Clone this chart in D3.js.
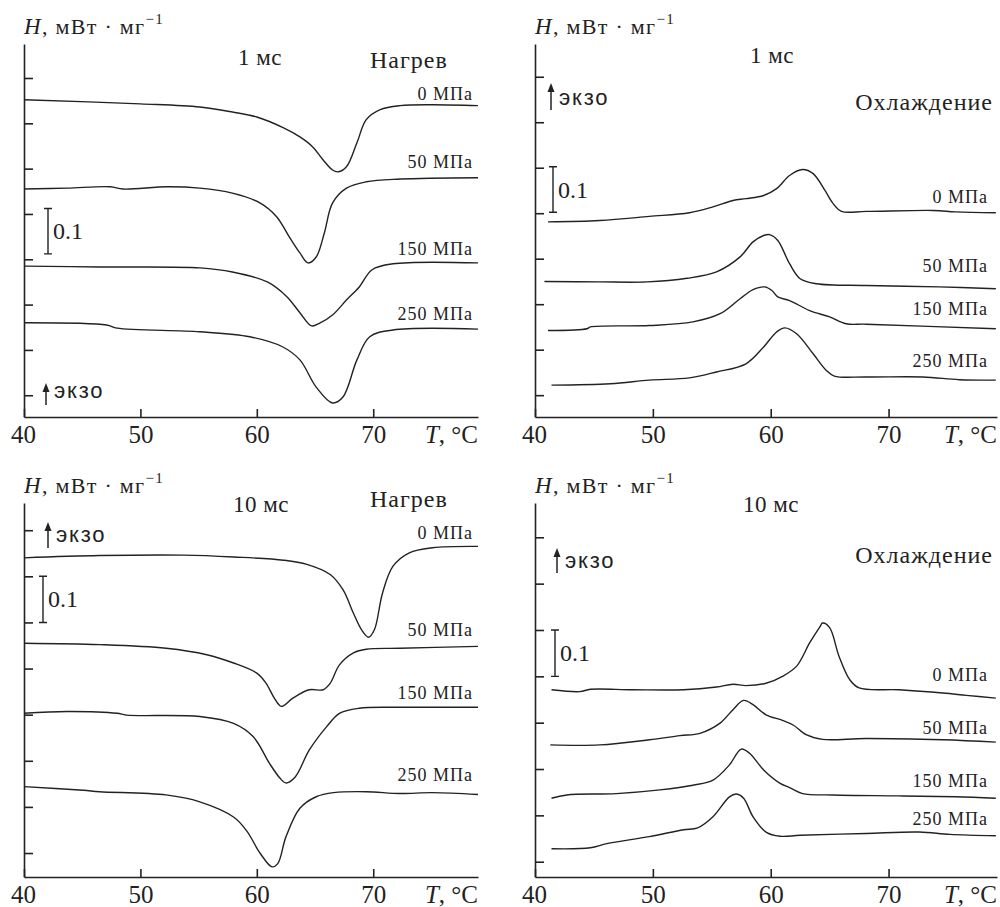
<!DOCTYPE html>
<html>
<head>
<meta charset="utf-8">
<script src="https://cdn.jsdelivr.net/npm/d3@7"></script>
<style>
  body { margin: 0; background: #fff; }
  svg text { fill: #222; }
</style>
</head>
<body>
<svg id="chart" width="1000" height="907"></svg>
<script>
/*
  DSC curves, 4 panels
*/

var xTicks = [40, 50, 60, 70],
    pressures = ["0 МПа", "50 МПа", "150 МПа", "250 МПа"],
    rates = ["1 мс", "1 мс", "10 мс", "10 мс"],
    modes = ["Нагрев", "Охлаждение", "Нагрев", "Охлаждение"];

// heating, 1 ms
var heat1_0 = [[40,0.700],[50,0.691],[55.1,0.684],[57.9,0.673],[60,0.662],[62.3,0.638],[63.7,0.618],[64.8,0.596],[65.7,0.567],[66.5,0.545],[67.0,0.541],[67.7,0.552],[68.6,0.605],[69.4,0.656],[70.6,0.678],[72.3,0.687],[75.1,0.689],[79,0.687]],
    heat1_50 = [[40,0.503],[43.7,0.505],[47.4,0.508],[48.5,0.503],[52.3,0.508],[55.1,0.505],[57.9,0.494],[60.3,0.472],[61.7,0.442],[62.8,0.397],[63.7,0.362],[64.4,0.340],[65.1,0.353],[65.8,0.406],[66.5,0.472],[67.7,0.505],[69.4,0.519],[72.3,0.525],[79,0.528]],
    heat1_150 = [[40,0.333],[46.5,0.331],[55.1,0.329],[57.9,0.320],[60.9,0.298],[62.6,0.265],[63.7,0.230],[64.7,0.201],[65.4,0.207],[66.5,0.225],[67.7,0.258],[68.8,0.287],[69.9,0.325],[71.7,0.338],[79,0.340]],
    heat1_250 = [[40,0.208],[47.1,0.203],[48.0,0.196],[55.1,0.188],[59.4,0.177],[62.2,0.155],[63.7,0.126],[65.1,0.066],[66.5,0.031],[67.4,0.044],[68.6,0.126],[69.7,0.177],[71.7,0.192],[79,0.194]];

// cooling, 1 ms
var cool1_0 = [[41.1,0.429],[45.5,0.432],[49.7,0.441],[53.1,0.449],[55.1,0.462],[56.8,0.476],[57.9,0.480],[59.4,0.487],[60.5,0.502],[61.6,0.531],[62.7,0.544],[63.6,0.535],[64.6,0.498],[65.3,0.469],[66.0,0.452],[68.1,0.452],[73.8,0.454],[75.7,0.451],[79.1,0.449]],
    cool1_50 = [[40.8,0.298],[45.5,0.297],[49.5,0.297],[52.9,0.305],[55.4,0.319],[57.4,0.352],[58.5,0.385],[59.4,0.399],[59.9,0.401],[60.6,0.388],[61.6,0.337],[62.5,0.304],[63.9,0.293],[68.1,0.289],[74.3,0.286],[79.1,0.282]],
    cool1_150 = [[41.1,0.190],[44.4,0.194],[44.7,0.198],[49.7,0.201],[53.4,0.209],[55.7,0.227],[57.4,0.260],[58.5,0.280],[59.5,0.286],[60.1,0.278],[60.6,0.264],[61.6,0.256],[63.3,0.234],[65.0,0.220],[66.4,0.205],[68.1,0.204],[79.1,0.194]],
    cool1_250 = [[41.4,0.070],[46.4,0.073],[49.7,0.081],[53.1,0.086],[55.4,0.099],[57.9,0.117],[59.4,0.154],[60.5,0.187],[61.2,0.196],[62.2,0.183],[63.6,0.139],[64.7,0.103],[65.4,0.090],[68.1,0.088],[72.9,0.088],[76.0,0.082],[79.1,0.081]];

// heating, 10 ms
var heat10_0 = [[40,0.692],[46.5,0.697],[53.7,0.698],[58.0,0.694],[62.3,0.687],[64.3,0.678],[66.3,0.656],[67.4,0.623],[68.3,0.572],[69.0,0.536],[69.6,0.520],[70.1,0.536],[70.8,0.616],[71.7,0.674],[73.1,0.703],[75.1,0.714],[79,0.717]],
    heat10_50 = [[40,0.507],[46.5,0.504],[52.2,0.496],[55.7,0.482],[58.0,0.464],[60.0,0.442],[60.8,0.420],[61.5,0.388],[62.1,0.370],[63.1,0.388],[64.5,0.406],[65.7,0.406],[66.3,0.420],[67.1,0.460],[68.3,0.486],[69.4,0.494],[72.3,0.496],[79,0.500]],
    heat10_150 = [[40,0.355],[43.7,0.359],[48.0,0.355],[48.8,0.351],[55.1,0.348],[58.0,0.333],[59.7,0.304],[61.1,0.246],[62.0,0.214],[62.5,0.204],[63.3,0.217],[64.5,0.275],[66.0,0.326],[67.1,0.355],[68.8,0.366],[72.3,0.368],[79,0.368]],
    heat10_250 = [[40,0.196],[45.1,0.188],[46.5,0.185],[52.2,0.178],[55.1,0.163],[58.0,0.130],[59.1,0.101],[60.3,0.051],[61.3,0.022],[61.8,0.029],[62.5,0.087],[63.7,0.149],[65.1,0.174],[66.6,0.183],[69.4,0.185],[72.3,0.181],[75.1,0.183],[79,0.179]];

// cooling, 10 ms
var cool10_0 = [[41.4,0.404],[43.8,0.400],[44.7,0.405],[48.3,0.404],[52.6,0.404],[55.4,0.410],[56.8,0.416],[57.9,0.413],[59.6,0.418],[61.0,0.433],[62.2,0.455],[63.3,0.505],[64.2,0.541],[64.4,0.548],[65.0,0.538],[65.8,0.476],[66.7,0.426],[67.5,0.408],[70.9,0.404],[74.6,0.397],[76.6,0.392],[79.1,0.386]],
    cool10_50 = [[41.3,0.285],[45.5,0.285],[49.7,0.296],[52.3,0.305],[54.0,0.310],[55.7,0.332],[56.8,0.361],[57.7,0.381],[58.5,0.372],[59.6,0.350],[61.0,0.338],[61.9,0.328],[63.0,0.307],[64.4,0.297],[68.1,0.299],[74.6,0.296],[79.1,0.291]],
    cool10_150 = [[41.4,0.170],[42.7,0.177],[46.9,0.180],[50.6,0.188],[53.4,0.198],[55.1,0.209],[56.5,0.242],[57.5,0.276],[58.2,0.267],[59.4,0.231],[60.8,0.202],[61.6,0.193],[62.7,0.180],[65.3,0.177],[70.9,0.175],[75.7,0.173],[79.1,0.170]],
    cool10_250 = [[41.4,0.061],[44.7,0.063],[46.1,0.072],[49.7,0.087],[52.6,0.102],[53.8,0.106],[55.1,0.130],[56.5,0.173],[57.1,0.179],[57.7,0.170],[58.5,0.130],[59.6,0.097],[60.8,0.088],[62.5,0.090],[68.1,0.094],[72.6,0.097],[75.2,0.092],[79.1,0.089]];

var curves = [
  [heat1_0, heat1_50, heat1_150, heat1_250],
  [cool1_0, cool1_50, cool1_150, cool1_250],
  [heat10_0, heat10_50, heat10_150, heat10_250],
  [cool10_0, cool10_50, cool10_150, cool10_250]
];

// layout of each panel (pixels)
var panels = [
  {x0: 24, x1: 478, top: 44, bottom: 417, tMax: 79, hMax: 0.823, tick0: 0.048,
   labelDy: [6, 10, 8, 9], labelX: 473,
   rateX: 238, rateY: 65, modeX: 370, modeY: 68, modeAnchor: "start",
   arrowX: 46, arrowY0: 405, arrowY1: 383, ekzoY: 398, barX: 48, barH: 0.36},
  {x0: 535, x1: 997, top: 44, bottom: 417, tMax: 79.2, hMax: 0.820, tick0: 0.048,
   labelDy: [10, 17, 14, 13], labelX: 988,
   rateX: 750, rateY: 63, modeX: 993, modeY: 110, modeAnchor: "end",
   arrowX: 551, arrowY0: 110, arrowY1: 83, ekzoY: 105, barX: 553, barH: 0.45},
  {x0: 24, x1: 478, top: 503, bottom: 877, tMax: 79, hMax: 0.811, tick0: 0.052,
   labelDy: [7, 10, 8, 13], labelX: 473,
   rateX: 233, rateY: 512, modeX: 370, modeY: 507, modeAnchor: "start",
   arrowX: 48, arrowY0: 548, arrowY1: 522, ekzoY: 542, barX: 43, barH: 0.552},
  {x0: 535, x1: 997, top: 503, bottom: 877, tMax: 79.2, hMax: 0.807, tick0: 0.033,
   labelDy: [17, 8, 11, 11], labelX: 988,
   rateX: 743, rateY: 512, modeX: 993, modeY: 563, modeAnchor: "end",
   arrowX: 557, arrowY0: 573, arrowY1: 548, ekzoY: 568, barX: 555, barH: 0.433}
];

var svg = d3.select("#chart"),
    ink = "#222",
    serif = "'Liberation Serif', 'Times New Roman', serif",
    sans = "'Liberation Sans', Arial, sans-serif";

function drawPanel(p, i){
  var x = d3.scaleLinear().domain([40, p.tMax]).range([p.x0, p.x1]),
      y = d3.scaleLinear().domain([0, p.hMax]).range([p.bottom, p.top]),
      g = svg.append("g"),
      yTicks = d3.range(0, 8).map(function(k){ return p.tick0 + k * 0.1; });

  var line = d3.line()
    .curve(d3.curveCatmullRom.alpha(0.5))
    .x(function(d){ return x(d[0]); })
    .y(function(d){ return y(d[1]); });

  // curves
  curves[i].forEach(function(c, j){
    g.append("path")
      .datum(c)
      .attr("d", line)
      .attr("fill", "none")
      .attr("stroke", ink)
      .attr("stroke-width", 1.4);

    var last = c[c.length - 1];
    g.append("text")
      .attr("x", p.labelX)
      .attr("y", y(last[1]) - p.labelDy[j])
      .attr("text-anchor", "end")
      .style("font-family", serif)
      .style("font-size", "18px")
      .style("letter-spacing", "1px")
      .text(pressures[j]);
  });

  //y axis, inner ticks only
  g.append("g")
    .attr("transform", "translate(" + p.x0 + ",0)")
    .call(d3.axisRight(y).tickValues(yTicks).tickSizeInner(9).tickSizeOuter(0).tickFormat(""));

  //x axis, ticks pointing up
  var xAxis = g.append("g")
    .attr("transform", "translate(0," + p.bottom + ")")
    .call(d3.axisBottom(x).tickValues(xTicks).tickSizeInner(-8).tickSizeOuter(0).tickPadding(8));

  g.selectAll(".domain, .tick line").attr("stroke", ink).attr("stroke-width", 1.6);
  xAxis.selectAll("text")
    .attr("fill", ink)
    .style("font-family", serif)
    .style("font-size", "25px");
  xAxis.select(".tick text").attr("dx", "-1");

  g.append("text")
    .attr("x", p.x1)
    .attr("y", p.bottom + 26)
    .attr("text-anchor", "end")
    .style("font-family", serif)
    .style("font-size", "25px")
    .html('<tspan font-style="italic">T</tspan>, °C');

  // y title
  g.append("text")
    .attr("x", p.x0)
    .attr("y", p.top - 10)
    .style("font-family", serif)
    .style("font-size", "22px")
    .style("letter-spacing", "1.3px")
    .html('<tspan font-style="italic" font-size="23px">H</tspan>, мВт · мг<tspan dy="-10" font-size="15px">−1</tspan>');

  // rate and mode
  g.append("text")
    .attr("x", p.rateX)
    .attr("y", p.rateY)
    .style("font-family", serif)
    .style("font-size", "23px")
    .style("letter-spacing", "0.5px")
    .text(rates[i]);

  g.append("text")
    .attr("x", p.modeX)
    .attr("y", p.modeY)
    .attr("text-anchor", p.modeAnchor)
    .style("font-family", serif)
    .style("font-size", "24px")
    .style("letter-spacing", "1px")
    .text(modes[i]);

  // exo arrow
  g.append("line")
    .attr("x1", p.arrowX).attr("x2", p.arrowX)
    .attr("y1", p.arrowY0).attr("y2", p.arrowY1 + 6)
    .attr("stroke", ink).attr("stroke-width", 1.5);
  g.append("path")
    .attr("d", "M" + (p.arrowX - 3.5) + "," + (p.arrowY1 + 9) + "L" + p.arrowX + "," + p.arrowY1 + "L" + (p.arrowX + 3.5) + "," + (p.arrowY1 + 9) + "Z")
    .attr("fill", ink);
  g.append("text")
    .attr("x", p.arrowX + 8)
    .attr("y", p.ekzoY)
    .style("font-family", sans)
    .style("font-size", "22px")
    .style("letter-spacing", "1.8px")
    .text("экзо");

  // 0.1 scale bar
  var b0 = y(p.barH), b1 = y(p.barH + 0.1);
  g.append("path")
    .attr("d", "M" + (p.barX - 4) + "," + b0 + "H" + (p.barX + 4) + "M" + p.barX + "," + b0 + "V" + b1 + "M" + (p.barX - 4) + "," + b1 + "H" + (p.barX + 4))
    .attr("fill", "none")
    .attr("stroke", ink)
    .attr("stroke-width", 1.4);
  g.append("text")
    .attr("x", p.barX + 5)
    .attr("y", (b0 + b1) / 2 + 8)
    .style("font-family", serif)
    .style("font-size", "24px")
    .text("0.1");
}

panels.forEach(drawPanel);
</script>
</body>
</html>
